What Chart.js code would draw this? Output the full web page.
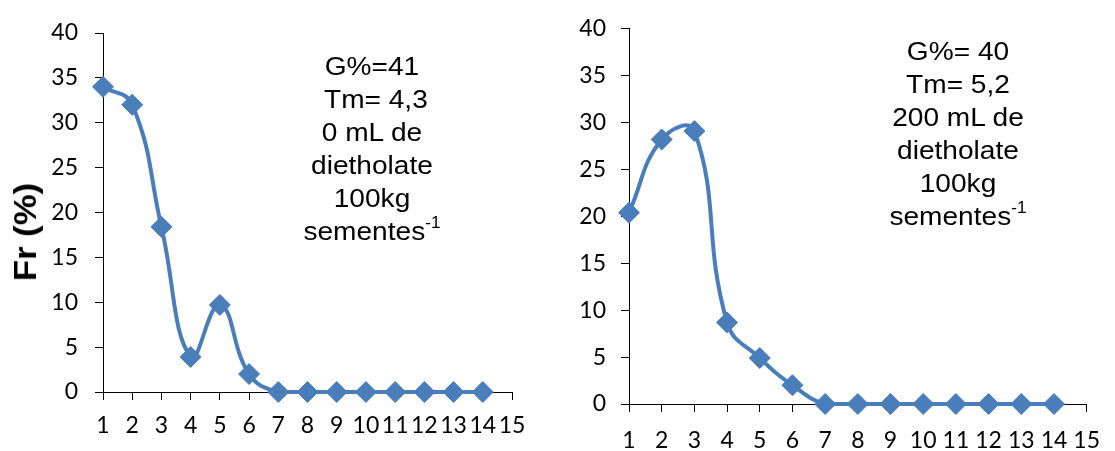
<!DOCTYPE html>
<html>
<head>
<meta charset="utf-8">
<script src="https://cdn.jsdelivr.net/npm/chart.js@4/dist/chart.umd.min.js"></script>
<style>
  body { margin: 0; background: #fff; }
  #wrap { position: relative; width: 1115px; height: 451px; overflow: hidden; }
  canvas { position: absolute; top: 0; }
  .note {
    position: absolute; width: 240px; text-align: center;
    font-family: "Liberation Sans", Arial, sans-serif; font-size: 26px; line-height: 33px;
    color: #000; transform: scaleX(1.08); transform-origin: center top; white-space: nowrap;
  }
  .note sup { font-size: 16px; position: relative; top: -12px; vertical-align: baseline; }
  #ytitle {
    position: absolute; left: 26px; top: 232px; white-space: nowrap;
    font-family: "Liberation Sans", Arial, sans-serif; font-weight: bold; font-size: 31px; color: #000;
    transform: translate(-50%, -50%) rotate(-90deg) scaleX(1.12);
  }
</style>
</head>
<body>
<div id="wrap">
  <canvas id="chartLeft" width="560" height="451" style="left:0"></canvas>
  <canvas id="chartRight" width="555" height="451" style="left:560px"></canvas>
  <div id="ytitle">Fr (%)</div>
  <div class="note" style="left:252px; top:50px">
    <div>G%=41</div>
    <div>&nbsp;Tm= 4,3</div>
    <div>0 mL de</div>
    <div>dietholate</div>
    <div>100kg</div>
    <div>sementes<sup>-1</sup></div>
  </div>
  <div class="note" style="left:838px; top:35px">
    <div>G%= 40</div>
    <div>Tm= 5,2</div>
    <div>200 mL de</div>
    <div>dietholate</div>
    <div>100kg</div>
    <div>sementes<sup>-1</sup></div>
  </div>
</div>
<script>
// dias apos a semeadura
const days = [1, 2, 3, 4, 5, 6, 7, 8, 9, 10, 11, 12, 13, 14];
// frequencia relativa de germinacao (%)
const frControl = [34, 32, 18.4, 3.9, 9.7, 2, 0, 0, 0, 0, 0, 0, 0, 0];
const frDietholate = [20.4, 28.2, 29.1, 8.7, 4.9, 2, 0, 0, 0, 0, 0, 0, 0, 0];
// ticks
const xTicks = [1, 2, 3, 4, 5, 6, 7, 8, 9, 10, 11, 12, 13, 14, 15];
const yTicks = [0, 5, 10, 15, 20, 25, 30, 35, 40];

const blue = '#4a7ebb';

function makeChart(id, values, g) {
    const ctx = document.getElementById(id).getContext('2d');
    return new Chart(ctx, {
        type: 'line',
        data: {
            datasets: [{
                data: days.map((d, i) => ({ x: d, y: values[i] })),
                borderColor: blue,
                backgroundColor: blue,
                borderWidth: 4,
                tension: 0.45,
                pointStyle: 'rectRot',
                pointRadius: 10.5,
                pointBorderWidth: 1,
                pointBorderColor: blue,
                pointBackgroundColor: blue,
                clip: false
            }]
        },
        options: {
            responsive: false,
            animation: false,
            events: [],
            layout: { padding: { left: 0, right: g.padRight, top: g.padTop, bottom: 0 } },
            plugins: { legend: { display: false }, tooltip: { enabled: false } },
            scales: {
                x: {
                    type: 'linear',
                    min: 1,
                    max: 15,
                    afterBuildTicks: s => { s.ticks = xTicks.map(v => ({ value: v })); },
                    afterFit: s => { s.height = g.axisH; },
                    grid: { drawOnChartArea: false, color: '#000', tickLength: 8 },
                    border: { color: '#000', width: 1 },
                    ticks: { color: '#000', font: { family: 'Lato', size: 23 }, padding: g.xPad, maxRotation: 0, autoSkip: false }
                },
                y: {
                    min: 0,
                    max: 40,
                    afterBuildTicks: s => { s.ticks = yTicks.map(v => ({ value: v })); },
                    afterFit: s => { s.width = g.axisW; },
                    grid: { drawOnChartArea: false, color: '#000', tickLength: 8 },
                    border: { color: '#000', width: 1 },
                    ticks: { color: '#000', font: { family: 'Lato', size: 23 }, padding: g.yPad }
                }
            }
        }
    });
}

makeChart('chartLeft', frControl, { axisW: 103, axisH: 59, padRight: 48, padTop: 33, yPad: 17, xPad: 12 });
makeChart('chartRight', frDietholate, { axisW: 69, axisH: 47, padRight: 19, padTop: 18, yPad: 15, xPad: 15 });
</script>
</body>
</html>
